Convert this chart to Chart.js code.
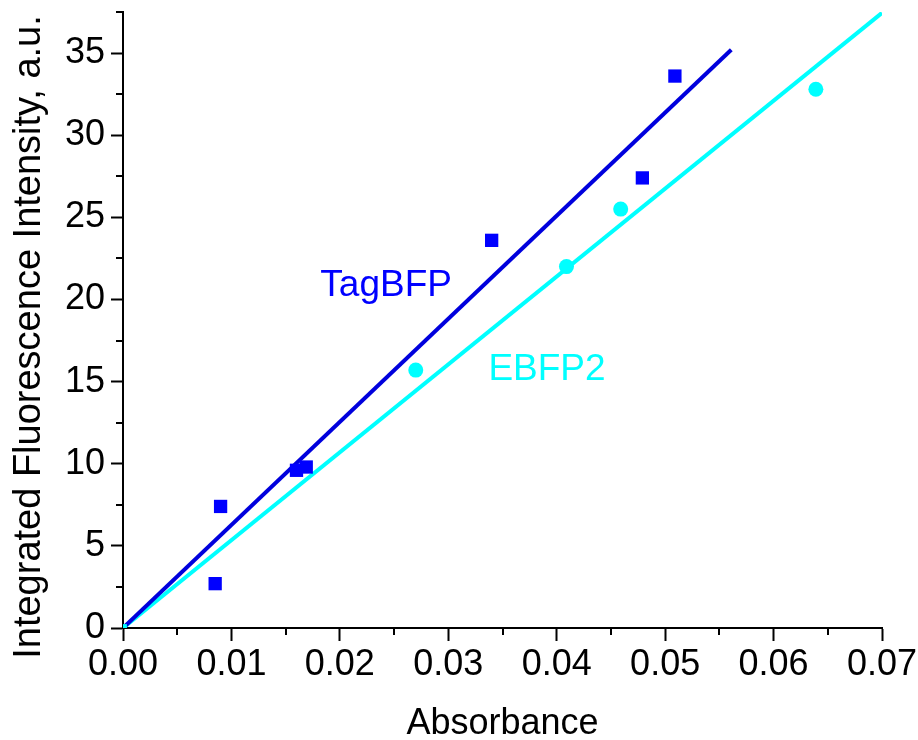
<!DOCTYPE html>
<html><head><meta charset="utf-8">
<script src="https://cdn.jsdelivr.net/npm/chart.js@4.4.1/dist/chart.umd.min.js"></script>
<style>html,body{margin:0;padding:0;background:#fff}#wrap{width:918px;height:740px}</style>
</head><body><div id="wrap"><canvas id="c" width="918" height="740"></canvas></div>
<script>
// ---- data ----
const tagAbs = [0.0085, 0.0090, 0.0160, 0.0169, 0.0340, 0.0479, 0.0509];
const tagInt = [2.7, 7.4, 9.6, 9.8, 23.6, 27.4, 33.6];
const ebfpAbs = [0.0270, 0.0409, 0.0459, 0.0639];
const ebfpInt = [15.7, 22.0, 25.5, 32.8];
const tagFitAbs = [0, 0.0561];
const tagFitInt = [0, 35.2];
const ebfpFitAbs = [0, 0.0700];
const ebfpFitInt = [0, 37.45];
const xTickValues = [0, 0.01, 0.02, 0.03, 0.04, 0.05, 0.06, 0.07];
const yTickValues = [0, 5, 10, 15, 20, 25, 30, 35];
const seriesNames = ['TagBFP', 'EBFP2'];
const xTitle = 'Absorbance';
const yTitle = 'Integrated Fluorescence Intensity, a.u.';

const FONT = '"Liberation Sans", Arial, Helvetica, sans-serif';
const BLUE = '#0000FF', BLUE_LINE = '#0000DD', CYAN = '#00FFFF';

const pts = (xs, ys) => xs.map((x, i) => ({x: x, y: ys[i]}));

const minorTicks = {
  id: 'minorTicks',
  afterDraw(chart) {
    const ctx = chart.ctx, xs = chart.scales.x, ys = chart.scales.y;
    const a = chart.chartArea;
    ctx.save();
    ctx.strokeStyle = '#000'; ctx.lineWidth = 2;
    ctx.beginPath();
    for (let i = 0; i < xTickValues.length - 1; i++) {
      const v = (xTickValues[i] + xTickValues[i + 1]) / 2;
      const px = Math.round(xs.getPixelForValue(v));
      ctx.moveTo(px, a.bottom); ctx.lineTo(px, a.bottom + 7);
    }
    const yMinor = yTickValues.map(v => v + 2.5);
    for (const v of yMinor) {
      const py = Math.round(ys.getPixelForValue(v));
      ctx.moveTo(a.left, py); ctx.lineTo(a.left - 7, py);
    }
    ctx.stroke();
    ctx.restore();
  }
};

// y-axis title drawn a little below the plot centre, as in the reference
const yAxisTitle = {
  id: 'yAxisTitle',
  afterDraw(chart, args, opts) {
    const ctx = chart.ctx, a = chart.chartArea;
    ctx.save();
    ctx.translate(opts.baselineX, (a.top + a.bottom) / 2 + opts.shift);
    ctx.rotate(-Math.PI / 2);
    ctx.font = opts.size + 'px ' + FONT;
    ctx.fillStyle = '#000';
    ctx.textAlign = 'center'; ctx.textBaseline = 'alphabetic';
    ctx.fillText(yTitle, 0, 0);
    ctx.restore();
  }
};

const seriesLabels = {
  id: 'seriesLabels',
  afterDatasetsDraw(chart, args, opts) {
    const ctx = chart.ctx, xs = chart.scales.x, ys = chart.scales.y;
    ctx.save();
    ctx.font = opts.size + 'px ' + FONT;
    ctx.textAlign = 'left'; ctx.textBaseline = 'alphabetic';
    opts.items.forEach(it => {
      ctx.fillStyle = it.color;
      ctx.fillText(it.text, xs.getPixelForValue(it.at[0]), ys.getPixelForValue(it.at[1]));
    });
    ctx.restore();
  }
};

new Chart(document.getElementById('c'), {
  type: 'scatter',
  data: {
    datasets: [
      { label: seriesNames[1] + ' fit', type: 'line', data: pts(ebfpFitAbs, ebfpFitInt),
        borderColor: CYAN, borderWidth: 4, showLine: true, fill: false,
        pointRadius: 0, order: 4 },
      { label: seriesNames[0] + ' fit', type: 'line', data: pts(tagFitAbs, tagFitInt),
        borderColor: BLUE_LINE, borderWidth: 4, showLine: true, fill: false,
        pointRadius: 0, order: 3 },
      { label: seriesNames[0], data: pts(tagAbs, tagInt), pointStyle: 'rect',
        pointRadius: 9.4, pointHoverRadius: 9.4, backgroundColor: BLUE, borderWidth: 0, order: 2 },
      { label: seriesNames[1], data: pts(ebfpAbs, ebfpInt), pointStyle: 'circle',
        pointRadius: 7.5, pointHoverRadius: 7.5, backgroundColor: CYAN, borderWidth: 0, order: 1 },
      { label: 'origin', data: pts([ebfpFitAbs[0]], [ebfpFitInt[0]]), pointStyle: 'rect',
        pointRadius: 5.5, backgroundColor: CYAN, borderWidth: 0, order: 0 }
    ]
  },
  options: {
    responsive: false,
    animation: false,
    events: [],
    layout: { padding: { top: 12, right: 36, left: 0, bottom: 0 } },
    plugins: {
      legend: { display: false },
      tooltip: { enabled: false },
      yAxisTitle: { baselineX: 40, shift: 17, size: 38 },
      seriesLabels: { size: 37, items: [
        { text: seriesNames[0], color: BLUE, at: [0.0182, 20.2] },
        { text: seriesNames[1], color: CYAN, at: [0.0337, 15.1] }
      ] }
    },
    scales: {
      x: {
        type: 'linear', min: 0, max: 0.07,
        afterFit(s) { s.height = 112; s.paddingLeft = 0; s.paddingRight = 0; },
        afterBuildTicks(s) { s.ticks = xTickValues.map(v => ({value: v})); },
        ticks: { color: '#000', font: { family: FONT, size: 36 }, padding: 2,
          callback: v => Number(v).toFixed(2), maxRotation: 0, autoSkip: false },
        grid: { display: true, drawOnChartArea: false, drawTicks: true, tickLength: 13,
          tickWidth: 2, tickColor: '#000' },
        border: { display: true, color: '#000', width: 2 },
        title: { display: true, text: xTitle, color: '#000',
          font: { family: FONT, size: 36 }, padding: { top: 0, bottom: -6 } }
      },
      y: {
        type: 'linear', min: 0, max: 37.5,
        afterFit(s) { s.width = 123; s.paddingTop = 0; s.paddingBottom = 0; },
        afterBuildTicks(s) { s.ticks = yTickValues.map(v => ({value: v})); },
        ticks: { color: '#000', font: { family: FONT, size: 36 }, padding: 6,
          callback: v => String(v), autoSkip: false },
        grid: { display: true, drawOnChartArea: false, drawTicks: true, tickLength: 12,
          tickWidth: 2, tickColor: '#000' },
        border: { display: true, color: '#000', width: 2 },
        title: { display: false, text: yTitle }
      }
    }
  },
  plugins: [minorTicks, yAxisTitle, seriesLabels]
});
</script></body></html>
